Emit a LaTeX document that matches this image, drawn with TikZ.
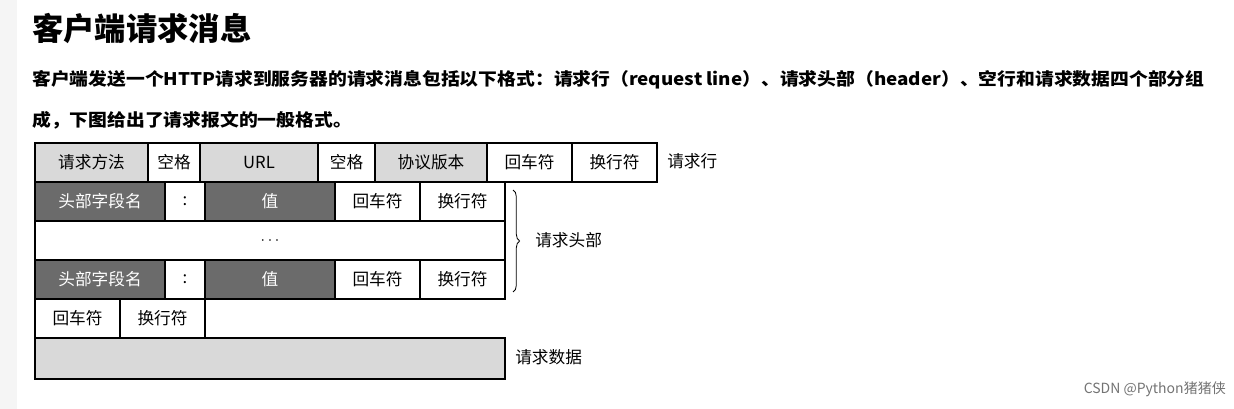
\documentclass[tikz,border=0pt]{standalone}
\usepackage{fontspec}
\setmainfont{Noto Sans CJK SC}
\usetikzlibrary{positioning,calc,decorations.pathreplacing}
\definecolor{lightcell}{HTML}{D9D9D9}
\definecolor{darkcell}{HTML}{6B6B6B}
\tikzset{
  cell/.style={draw=black, line width=0.8pt, inner sep=0pt, font=\fontsize{12.5}{12.5}\selectfont},
  light/.style={cell, fill=lightcell},
  dark/.style={cell, fill=darkcell, text=white},
  plain/.style={cell, fill=white},
  side/.style={anchor=west, inner sep=0pt, font=\fontsize{12.5}{12.5}\selectfont},
  para/.style={anchor=west, inner sep=0pt, xscale=1.085, transform shape, font=\fontsize{13}{13}\selectfont\bfseries},
}
\begin{document}
\begin{tikzpicture}[x=0.75pt, y=-0.75pt]
\useasboundingbox (0,0) rectangle (1234,409);
\fill[black!4] (0,0) rectangle (17,409);
\node[anchor=west, inner sep=0pt, font=\fontsize{23.5}{23.5}\selectfont\bfseries] (title) at (32,29) {客户端请求消息};
\node[para] (para1) at (32,80) {客户端发送一个HTTP请求到服务器的请求消息包括以下格式：请求行（request line）、请求头部（header）、空行和请求数据四个部分组};
\node[para] (para2) at (32,120) {成，下图给出了请求报文的一般格式。};
% request line
\foreach \a/\b/\t/\s [count=\i] in {35/148/请求方法/light, 148/200/空格/plain, 200/318/URL/light, 318/375/空格/plain, 375/487/协议版本/light, 487/572/回车符/plain, 572/657/换行符/plain}
  \node[\s, minimum width={(\b-\a)*0.75pt}, minimum height={39*0.75pt}] (r\i) at ({(\a+\b)/2},162.5) {\t};
% header lines
\foreach \y/\r in {201.5/a, 279.5/b}
  \foreach \a/\b/\t/\s [count=\i] in {35/165/头部字段名/dark, 165/205/:/plain, 205/335/值/dark, 335/420/回车符/plain, 420/505/换行符/plain}
    \node[\s, minimum width={(\b-\a)*0.75pt}, minimum height={39*0.75pt}] (\r\i) at ({(\a+\b)/2},\y) {\t};
\node[plain, minimum width={470*0.75pt}, minimum height={39*0.75pt}] (dots) at (270,240.5) {\textbf{$\cdots$}};
% empty line
\foreach \a/\b/\t [count=\i] in {35/120/回车符, 120/205/换行符}
  \node[plain, minimum width={(\b-\a)*0.75pt}, minimum height={39*0.75pt}] (e\i) at ({(\a+\b)/2},318.5) {\t};
% body
\node[light, minimum width={470*0.75pt}, minimum height={41*0.75pt}] (body) at (270,358.5) {};
% side labels
\node[side] (lineLbl) at (667,161) {请求行};
\coordinate (bt) at (513,190);
\coordinate (bb) at (513,292);
\draw[decorate, decoration={brace, amplitude=5pt}, line width=0.6pt] (bt) -- (bb);
\node[side] (headLbl) at (535,240) {请求头部};
\node[side] (bodyLbl) at (515,357) {请求数据};
\node[anchor=east, inner sep=0pt, text=black!55, font=\fontsize{10.5}{10.5}\selectfont] (mark) at (1226,389) {CSDN @Python猪猪侠};
\end{tikzpicture}
\end{document}
